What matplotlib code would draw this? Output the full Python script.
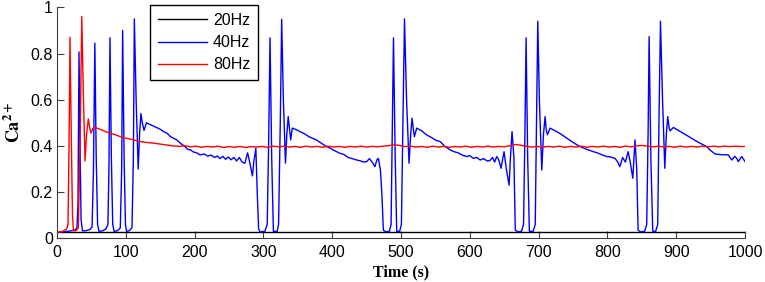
import numpy as np
import matplotlib
matplotlib.use("Agg")
import matplotlib.pyplot as plt

plt.rcParams['font.family'] = ['Liberation Sans', 'DejaVu Sans']
plt.rcParams['mathtext.fontset'] = 'stix'

# 20Hz trace (flat)
hz20 = [(0, 0.027), (1000, 0.027)]

# 40Hz trace, (time s, Ca2+)
hz40 = [
    (0, 0.025), (10, 0.028), (20, 0.032), (26, 0.036), (29, 0.045), (30.5, 0.15),
    (32, 0.807), (33.5, 0.4), (35, 0.08), (37, 0.032), (42, 0.033), (48, 0.038),
    (51, 0.05), (53, 0.3), (55, 0.845), (57, 0.35), (59, 0.06), (61, 0.03),
    (66, 0.032), (71, 0.04), (74, 0.06), (75.5, 0.3), (77, 0.868), (79, 0.35),
    (81, 0.06), (83, 0.03), (88, 0.033), (92, 0.045), (94, 0.3), (95.4, 0.90),
    (97.5, 0.35), (99.5, 0.06), (101, 0.03), (105, 0.033), (109, 0.045), (111, 0.35),
    (112.4, 0.95), (115, 0.6), (118, 0.30), (120, 0.45), (122, 0.54), (124, 0.50),
    (126.5, 0.467), (130, 0.50), (137, 0.49), (143, 0.482), (150, 0.472), (156, 0.46),
    (160, 0.455), (165, 0.44), (170, 0.432), (174, 0.426), (180, 0.41), (186, 0.397),
    (190, 0.385), (194, 0.383), (198, 0.374), (203, 0.37), (208, 0.361), (214, 0.365),
    (219, 0.356), (224, 0.36), (229, 0.35), (233, 0.356), (237, 0.345), (241, 0.355),
    (245, 0.342), (249, 0.352), (253, 0.34), (257, 0.35), (261, 0.335), (265, 0.35),
    (269, 0.33), (273, 0.325), (277, 0.37), (280, 0.33), (284, 0.27), (286, 0.33),
    (289, 0.39), (291, 0.2), (293, 0.04), (295, 0.028), (302, 0.03), (305.5, 0.06),
    (307.5, 0.4), (309.6, 0.868), (312, 0.35), (314.5, 0.03), (320, 0.03), (322, 0.06),
    (324.5, 0.5), (326.5, 0.948), (329, 0.6), (332, 0.325), (334, 0.45), (336, 0.527),
    (338, 0.47), (339.6, 0.426), (342, 0.477), (348, 0.47), (353, 0.462), (360, 0.452),
    (366, 0.44), (372, 0.432), (377, 0.426), (383, 0.414), (390, 0.40), (397, 0.39),
    (403, 0.38), (411, 0.368), (417, 0.363), (423, 0.35), (429, 0.345), (435.6, 0.339),
    (441, 0.335), (446, 0.33), (450, 0.332), (454, 0.345), (458, 0.33), (462, 0.31),
    (465, 0.34), (467, 0.346), (470, 0.296), (472, 0.2), (474.3, 0.035), (478, 0.028),
    (483, 0.03), (485.5, 0.06), (487.2, 0.45), (489, 0.868), (491.5, 0.35), (493.7, 0.03),
    (498, 0.03), (500.5, 0.06), (503, 0.55), (505, 0.95), (508, 0.6), (511.6, 0.325),
    (514, 0.45), (516, 0.52), (518, 0.47), (519.4, 0.44), (522.8, 0.477), (530, 0.465),
    (537, 0.448), (545, 0.435), (550, 0.425), (556.7, 0.419), (563, 0.40), (571, 0.383),
    (577, 0.375), (583, 0.37), (589, 0.36), (595.5, 0.354), (600, 0.358), (605, 0.346),
    (610, 0.35), (615, 0.339), (620, 0.345), (625, 0.335), (629, 0.336), (633, 0.35),
    (636, 0.33), (639, 0.354), (642, 0.34), (645.3, 0.303), (649.7, 0.375), (653, 0.3),
    (657, 0.23), (659, 0.35), (661.3, 0.462), (664, 0.35), (666, 0.035), (670, 0.028),
    (675, 0.03), (678, 0.06), (680, 0.45), (681.7, 0.868), (684, 0.35), (686.5, 0.03),
    (692, 0.03), (695, 0.06), (697, 0.55), (698.7, 0.94), (701, 0.6), (704.5, 0.296),
    (707, 0.45), (709.3, 0.527), (711, 0.47), (712.7, 0.448), (716.6, 0.477), (726, 0.462),
    (733, 0.45), (741, 0.433), (750, 0.415), (760, 0.397), (770, 0.385), (779.5, 0.375),
    (787, 0.368), (793, 0.36), (799, 0.354), (805, 0.352), (811, 0.346), (815, 0.33),
    (818, 0.31), (822, 0.35), (826, 0.33), (830, 0.375), (833, 0.33), (836.8, 0.26),
    (838.5, 0.35), (840, 0.426), (842.5, 0.3), (844.5, 0.035), (848, 0.028), (854, 0.03),
    (857, 0.06), (859, 0.45), (860.5, 0.873), (863, 0.35), (865.8, 0.03), (870, 0.03),
    (873, 0.06), (875, 0.55), (877, 0.94), (880, 0.6), (883.3, 0.303), (885.5, 0.45),
    (887.6, 0.527), (889.5, 0.48), (891, 0.465), (895.8, 0.48), (903, 0.467), (910, 0.455),
    (920, 0.437), (930, 0.419), (937, 0.408), (944, 0.397), (950, 0.38), (956.4, 0.365),
    (965, 0.362), (975.7, 0.361), (978, 0.35), (980.6, 0.339), (985, 0.355), (988, 0.345),
    (990, 0.332), (995, 0.354), (1000, 0.332),
]

# 80Hz trace
hz80 = [
    (0, 0.025), (8, 0.03), (14, 0.04), (16, 0.06), (17.5, 0.4), (18.9, 0.87),
    (20.5, 0.5), (22.5, 0.1), (24, 0.032), (28, 0.033), (31, 0.045), (33.5, 0.4),
    (36, 0.96), (38.5, 0.6), (40.8, 0.335), (43, 0.45), (45.5, 0.517), (47.5, 0.48),
    (49.4, 0.455), (52, 0.475), (55, 0.48), (60, 0.475), (66, 0.468), (72, 0.46),
    (77, 0.456), (85, 0.448), (92, 0.44), (101, 0.433), (110, 0.427), (121, 0.419),
    (130, 0.415), (140, 0.412), (150, 0.408), (160, 0.404), (169, 0.40), (178, 0.398),
    (186, 0.401), (194, 0.396), (202, 0.399), (210, 0.394), (218, 0.398), (226, 0.395),
    (234, 0.399), (242, 0.393), (250, 0.397), (258, 0.394), (266, 0.398), (274, 0.393),
    (282, 0.397), (290, 0.395), (298, 0.398), (306, 0.394), (314, 0.399), (322, 0.396),
    (330, 0.399), (338, 0.395), (346, 0.398), (354, 0.394), (362, 0.399), (370, 0.395),
    (378, 0.398), (386, 0.394), (394, 0.399), (402, 0.395), (410, 0.398), (418, 0.394),
    (426, 0.398), (434, 0.395), (442, 0.399), (450, 0.395), (458, 0.398), (466, 0.396),
    (474, 0.399), (482, 0.401), (490, 0.405), (498, 0.402), (506, 0.397), (514, 0.399),
    (522, 0.395), (530, 0.398), (538, 0.394), (546, 0.399), (554, 0.395), (562, 0.398),
    (570, 0.394), (578, 0.398), (586, 0.395), (594, 0.399), (602, 0.394), (610, 0.398),
    (618, 0.395), (626, 0.399), (634, 0.395), (642, 0.398), (650, 0.396), (658, 0.401),
    (666, 0.406), (674, 0.403), (682, 0.398), (690, 0.395), (698, 0.398), (706, 0.394),
    (714, 0.398), (722, 0.395), (730, 0.399), (738, 0.394), (746, 0.398), (754, 0.395),
    (762, 0.399), (770, 0.394), (778, 0.398), (786, 0.395), (794, 0.399), (802, 0.395),
    (810, 0.398), (818, 0.394), (826, 0.399), (834, 0.396), (842, 0.400), (850, 0.402),
    (858, 0.399), (866, 0.396), (874, 0.399), (882, 0.395), (890, 0.398), (898, 0.394),
    (906, 0.399), (914, 0.395), (922, 0.398), (930, 0.395), (938, 0.399), (946, 0.396),
    (954, 0.399), (962, 0.396), (970, 0.399), (978, 0.397), (986, 0.399), (994, 0.397),
    (1000, 0.398),
]

labels = ['20Hz', '40Hz', '80Hz']
colors = ['black', '#0000ff', '#ff0000']
xticks = list(range(0, 1001, 100))
yticks = [0, 0.2, 0.4, 0.6, 0.8, 1]
yticklabels = ['0', '0.2', '0.4', '0.6', '0.8', '1']

fig = plt.figure(figsize=(7.65, 2.82), dpi=100)
ax = fig.add_axes([0.0745, 0.155, 0.8995, 0.819])

for data, lab, c in zip([hz20, hz40, hz80], labels, colors):
    arr = np.array(data)
    ax.plot(arr[:, 0], arr[:, 1], color=c, lw=1.0, label=lab)

ax.set_xlim(0, 1000)
ax.set_ylim(0, 1)
ax.set_xticks(xticks)
ax.set_yticks(yticks)
ax.set_yticklabels(yticklabels)
ax.spines['top'].set_visible(False)
ax.spines['right'].set_visible(False)
for s in ['left', 'bottom']:
    ax.spines[s].set_color('#404040')
ax.tick_params(direction='in', length=5, width=0.8, color='#404040', labelsize=11.5)
ax.tick_params(axis='x', pad=5)
ax.tick_params(axis='y', pad=3)

ax.set_xlabel('Time (s)', family='Liberation Serif', fontweight='bold', fontsize=11.5, labelpad=3)
ax.set_ylabel(r'$\mathbf{Ca^{2+}}$', fontsize=13, labelpad=5)

leg = ax.legend(loc='upper left', bbox_to_anchor=(0.135, 1.01), borderaxespad=0,
                fancybox=False, edgecolor='black', fontsize=11.5, handlelength=3.1,
                handletextpad=0.35, labelspacing=0.45, borderpad=0.5, framealpha=1)
leg.get_frame().set_linewidth(1.0)

fig.savefig('out.png', dpi=100)
